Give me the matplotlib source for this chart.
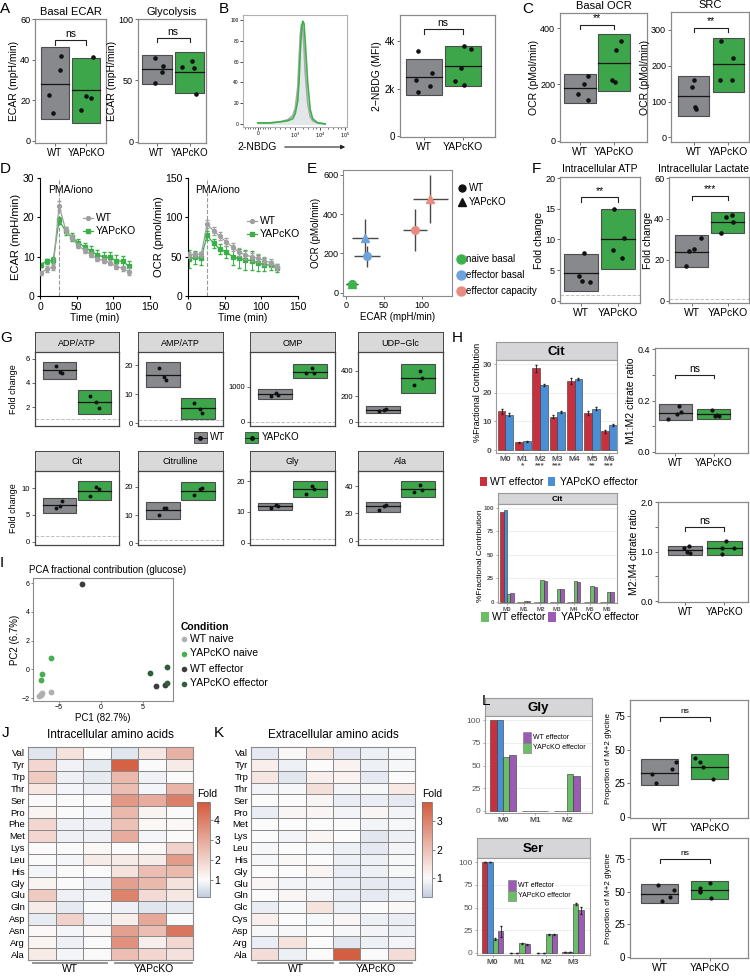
import numpy as np
import matplotlib
matplotlib.use('Agg')
import matplotlib.pyplot as plt
from matplotlib.patches import Rectangle, FancyArrowPatch
from matplotlib.lines import Line2D
from matplotlib.colors import LinearSegmentedColormap, Normalize

plt.rcParams['font.family'] = ['Liberation Sans', 'DejaVu Sans']
plt.rcParams['axes.linewidth'] = 0.8

W, H = 750, 976
fig = plt.figure(figsize=(W / 100, H / 100), dpi=100)

GROUPS = ['WT', 'YAPcKO']

# ---------------- data ----------------
# A  (box = [low, high, centre line] per group)
basal_ecar_box = [[11, 46, 28], [9, 41, 25]]
basal_ecar_pts = [[42, 35, 22.5, 14], [41.5, 22, 21, 15]]
glyco_box = [[47, 71, 59], [40, 73, 57]]
glyco_pts = [[68, 62, 57, 48], [66, 61, 60, 39]]

# B
nbdg_hist_x = [1.5, 2.0, 2.4, 2.7, 2.9, 3.0, 3.1, 3.15, 3.2, 3.25, 3.3, 3.35, 3.4, 3.5, 3.6, 3.7, 3.9, 4.2]
nbdg_hist_wt = [1, 1, 2, 4, 8, 15, 35, 60, 85, 96, 92, 75, 50, 20, 7, 3, 1, 0]
nbdg_hist_ko = [1, 1, 2, 3, 5, 10, 22, 40, 68, 90, 99, 97, 80, 40, 14, 5, 1, 0]
nbdg_box = [[1750, 3250, 2500], [2100, 3800, 2950]]
nbdg_pts = [[3600, 2650, 2350, 2100, 1850], [3800, 3680, 2850, 2300, 2150]]

# C
basal_ocr_box = [[135, 237, 187], [175, 378, 277]]
basal_ocr_pts = [[230, 200, 167, 143], [355, 322, 215, 210]]
src_box = [[60, 172, 115], [128, 278, 205]]
src_pts = [[160, 140, 85, 78], [270, 222, 160, 160]]

# D
time_min = [1, 9, 18, 26, 35, 43, 52, 61, 69, 78, 87, 95, 104, 113, 121]
ecar_wt = [5.8, 6.8, 7.3, 23, 16.8, 14.8, 12.8, 11.6, 10.5, 9.4, 9.0, 8.5, 7.5, 7.0, 6.2]
ecar_wt_sd = [0.5, 0.8, 0.8, 1.2, 0.8, 0.6, 0.6, 0.6, 0.6, 0.6, 0.6, 0.6, 0.7, 0.7, 0.8]
ecar_ko = [8.0, 8.8, 9.1, 19.2, 16.5, 15.0, 13.6, 12.4, 11.5, 10.5, 9.9, 9.8, 9.0, 8.8, 7.6]
ecar_ko_sd = [0.5, 0.7, 0.7, 0.9, 1.0, 1.0, 1.0, 1.2, 1.2, 1.3, 1.3, 1.3, 1.3, 1.3, 1.3]
ocr_wt = [52, 53, 53, 91, 83, 76, 69, 62, 56, 52, 50, 48, 45, 42, 37]
ocr_wt_sd = [4, 3, 3, 5, 5, 5, 5, 5, 5, 5, 5, 5, 5, 5, 4]
ocr_ko = [47, 49, 48, 77, 67, 60, 56, 50, 48, 46, 45, 42, 40, 39, 36]
ocr_ko_sd = [12, 8, 8, 6, 6, 6, 8, 10, 12, 13, 12, 10, 8, 6, 5]

# E
e_states = ['naive basal', 'effector basal', 'effector capacity']
e_wt_x = [7.5, 28, 91]
e_wt_xerr = [7, 17, 15.5]
e_wt_y = [42, 185, 318]
e_wt_yerr = [8, 53, 108]
e_ko_x = [7.5, 25, 111]
e_ko_xerr = [8, 16.5, 23]
e_ko_y = [46, 276, 475]
e_ko_yerr = [8, 101, 123]

# F
atp_box = [[1.5, 7.6, 4.5], [5.2, 15, 10.1]]
atp_pts = [[7.8, 4.1, 3.2, 3.0], [15, 10.2, 8.2, 7.0]]
lac_box = [[16.5, 32, 24], [33, 43.5, 38.5]]
lac_pts = [[30.5, 25.5, 24.5, 17], [42, 41, 38.5, 33]]

# G
g_names = ['ADP/ATP', 'AMP/ATP', 'OMP', 'UDP\u2212Glc', 'Cit', 'Citrulline', 'Gly', 'Ala']
g_box = [
    [[4.35, 5.75, 5.05], [1.45, 3.4, 2.45]],
    [[12.3, 21, 16.5], [1.5, 8.8, 5.2]],
    [[660, 930, 790], [1240, 1640, 1430]],
    [[65, 120, 90], [225, 455, 340]],
    [[5.3, 8.2, 6.8], [7.8, 11.3, 9.5]],
    [[8.7, 14.8, 11.7], [15.3, 21.8, 18.5]],
    [[10.5, 13, 11.8], [14.8, 20, 17.5]],
    [[21, 28, 25], [32, 43.5, 38]],
]
g_pts = [
    [[5.4, 4.95, 4.8], [2.9, 2.4, 1.95]],
    [[19, 16, 14.8], [7, 5, 3.5]],
    [[735, 835, 775], [1390, 1530, 1390]],
    [[80, 90, 100], [285, 395, 340]],
    [[6.3, 6.6, 7.6], [8.6, 10.3, 9.8]],
    [[10, 12.5, 12.5], [17, 19.3, 19.8]],
    [[11.3, 12.3, 11.8], [16, 18.5, 17.5]],
    [[22.7, 25.5, 26], [35.5, 40.5, 36.8]],
]

# H
iso_cit = ['M0', 'M1', 'M2', 'M3', 'M4', 'M5', 'M6']
iso_sig = ['', '*', '***', '***', '', '**', '***']
cit_wt = [13.5, 2.8, 28.5, 11.7, 24.0, 13.0, 6.5]
cit_wt_se = [0.8, 0.2, 1.3, 0.4, 1.0, 0.6, 0.5]
cit_ko = [12.3, 3.1, 22.8, 13.3, 24.8, 14.5, 8.8]
cit_ko_se = [0.5, 0.2, 0.3, 0.2, 0.5, 0.4, 0.4]
cit2_red = [96, 0.5, 0, 0, 0, 0, 0]
cit2_blue = [98, 0.5, 0, 0, 0, 0, 0]
cit2_green = [9, 0.8, 23, 14, 22, 17, 11]
cit2_purple = [10, 0.8, 22, 14, 21.5, 16, 10.5]
m1m2_box = [[0.123, 0.185, 0.152], [0.13, 0.167, 0.147]]
m1m2_pts = [[0.178, 0.155, 0.148, 0.128], [0.163, 0.142, 0.140, 0.139]]
m2m4_box = [[0.92, 1.12, 1.03], [0.92, 1.22, 1.08]]
m2m4_pts = [[1.12, 1.07, 0.98, 0.97], [1.22, 1.08, 1.07, 0.94]]

# I
pca_groups = ['WT naive', 'YAPcKO naive', 'WT effector', 'YAPcKO effector']
pca_x = [[-7.4, -7.1, -7.05, -7.2, -5.9], [-6.0, -7.0, -7.1], [-2.2, 6.6, 7.65], [5.8, 7.9, 7.9]]
pca_y = [[-1.84, -1.68, -1.63, -1.78, -1.58], [0.82, -0.33, -0.75], [5.94, -1.19, -1.07], [-0.22, 0.15, -0.92]]

# J
intra_rows = ['Val', 'Tyr', 'Trp', 'Thr', 'Ser', 'Pro', 'Phe', 'Met', 'Lys',
              'Leu', 'His', 'Gly', 'Glu', 'Gln', 'Asp', 'Asn', 'Arg', 'Ala']
intra_fold = [
    [0.6, 1.6, 1.0, 0.6, 1.5, 2.8],
    [1.9, 0.85, 0.7, 4.7, 1.0, 1.4],
    [2.2, 0.8, 0.7, 2.6, 0.85, 1.0],
    [1.5, 0.9, 0.8, 2.5, 0.9, 2.7],
    [1.05, 1.0, 1.0, 3.4, 2.9, 4.0],
    [1.2, 1.0, 0.9, 2.6, 1.2, 1.0],
    [1.9, 0.8, 0.8, 2.4, 1.1, 1.1],
    [1.9, 0.8, 0.8, 2.9, 0.9, 1.0],
    [1.05, 1.0, 1.1, 1.0, 1.1, 2.0],
    [1.0, 0.9, 1.4, 1.4, 1.4, 3.3],
    [0.9, 1.0, 1.0, 1.6, 2.5, 2.6],
    [1.2, 1.0, 0.8, 3.2, 2.6, 1.6],
    [2.2, 0.8, 0.85, 3.9, 1.8, 1.5],
    [1.4, 0.7, 1.0, 0.8, 0.6, 0.7],
    [0.7, 2.0, 0.8, 1.3, 3.0, 1.0],
    [1.1, 0.9, 1.1, 3.2, 2.5, 4.2],
    [1.2, 0.8, 1.0, 3.6, 1.3, 1.9],
    [1.4, 0.9, 1.0, 2.5, 1.9, 1.6],
]

# K
extra_rows = ['Val', 'Tyr', 'Trp', 'Thr', 'Ser', 'Pro', 'Met', 'Lys', 'Leu',
              'His', 'Gly', 'Glu', 'Gln', 'Glc', 'Cys', 'Asp', 'Arg', 'Ala']
extra_fold = [
    [0.75, 1.05, 1.4, 0.75, 0.85, 0.95],
    [1.2, 0.85, 1.0, 1.15, 0.85, 0.95],
    [1.35, 0.7, 1.2, 1.15, 0.75, 1.0],
    [0.9, 0.95, 1.45, 0.9, 0.95, 1.3],
    [1.0, 1.0, 1.1, 0.8, 0.8, 0.75],
    [0.8, 1.1, 1.1, 0.9, 1.1, 0.9],
    [1.0, 1.0, 1.0, 1.0, 0.9, 0.95],
    [1.0, 0.9, 1.1, 1.0, 0.7, 0.85],
    [0.95, 1.0, 0.95, 0.85, 0.75, 0.9],
    [0.95, 1.05, 1.0, 0.85, 0.85, 0.95],
    [1.0, 1.0, 1.1, 0.8, 0.85, 0.95],
    [1.1, 0.9, 0.9, 0.8, 0.75, 0.8],
    [1.0, 1.1, 0.9, 0.8, 0.75, 0.85],
    [0.8, 0.95, 1.4, 0.85, 1.0, 1.05],
    [1.2, 1.0, 0.95, 1.1, 0.85, 0.8],
    [0.95, 0.95, 1.0, 0.95, 0.9, 0.85],
    [0.8, 1.4, 1.0, 0.7, 0.85, 0.9],
    [1.5, 0.85, 1.0, 3.6, 1.0, 1.5],
]

# L
iso_gly = ['M0', 'M1', 'M2']
gly_bars = [[100, 0.3, 0], [100, 0.3, 0], [59, 0.3, 41], [62, 0.3, 38]]
iso_ser = ['M0', 'M1', 'M2', 'M3']
ser_bars = [[100, 0, 0, 1], [100, 0, 0, 1], [15.5, 10.5, 20.5, 53.5], [24, 9.5, 20.5, 47]]
ser_err = [[0.5, 0, 0, 0.4], [0.5, 0, 0, 0.4], [1.2, 0.6, 0.6, 1.0], [6, 0.6, 0.6, 4]]
gly_m2_box = [[24, 43, 33], [28.5, 46.5, 37.5]]
gly_m2_pts = [[41, 36, 32, 25], [43.5, 41, 37, 28.5]]
gly_m2b_box = [[41, 56, 48.5], [44, 58, 51]]
gly_m2b_pts = [[55, 51, 45.5, 43], [56.5, 52.5, 50.5, 49.5, 45]]

# ---------------- styles ----------------
BOXFILL = ['#87898c', '#3da64b']
RED, BLUE, LGREEN, PURPLE = '#c8303d', '#4a8fd6', '#6cbd68', '#9a5db3'
E_COLORS = ['#3cb24a', '#6da3dc', '#e88b80']
PCA_COLORS = ['#b0b0b0', '#4aad52', '#3d3d3d', '#2f6038']


def px(x0, y0, x1, y1):
    return fig.add_axes([x0 / W, 1 - y1 / H, (x1 - x0) / W, (y1 - y0) / H])


def fx(x):
    return x / W


def fy(y):
    return 1 - y / H


def ftext(x, y, s, **kw):
    fig.text(fx(x), fy(y), s, **kw)


def fline(xs, ys, **kw):
    fig.add_artist(Line2D([fx(v) for v in xs], [fy(v) for v in ys], transform=fig.transFigure, **kw))


def fmark(x, y, **kw):
    fig.add_artist(Line2D([fx(x)], [fy(y)], transform=fig.transFigure, **kw))


def frect(x0, y0, x1, y1, **kw):
    fig.add_artist(Rectangle((fx(x0), fy(y1)), (x1 - x0) / W, (y1 - y0) / H,
                             transform=fig.transFigure, **kw))


def letter(x, y, s):
    ftext(x, y, s, fontsize=11, va='top', ha='left')


def box_panel(ax, box, pts, jit, xlim, ylim, yticks, yticklabels=None, width=0.9,
              sig=None, sig_y=None, ylabel=None, title=None, fs=7.5, tfs=7, ms=3.3,
              dashed=None, frame='#8a8a8a', show_x=True, lpad=2, xfs=None):
    for i in range(2):
        lo, hi, mid = box[i]
        c = i + 1
        ax.add_patch(Rectangle((c - width / 2, lo), width, hi - lo, facecolor=BOXFILL[i],
                               edgecolor='#4d4d4d', lw=0.8, zorder=2))
        ax.plot([c - width / 2, c + width / 2], [mid, mid], color='#151515', lw=0.9, zorder=3)
        ax.plot([c + j for j in jit[i]], pts[i], 'o', color='#111111', ms=ms, mec='none', zorder=4)
    if dashed is not None:
        ax.axhline(dashed, color='#c0c0c0', ls='--', lw=0.7, zorder=1)
    ax.set_xlim(*xlim)
    ax.set_ylim(*ylim)
    ax.set_yticks(yticks)
    if yticklabels is not None:
        ax.set_yticklabels(yticklabels)
    if show_x:
        ax.set_xticks([1, 2])
        ax.set_xticklabels(GROUPS, fontsize=xfs if xfs else tfs + 0.5)
    else:
        ax.set_xticks([])
    ax.tick_params(axis='y', labelsize=tfs)
    ax.tick_params(length=2, width=0.6, color='#555555', pad=1.5)
    for s in ax.spines.values():
        s.set_color(frame)
        s.set_linewidth(0.9)
    if ylabel:
        ax.set_ylabel(ylabel, fontsize=fs, labelpad=lpad)
    if title:
        ax.set_title(title, fontsize=fs + 0.5, pad=3)
    if sig:
        rng = ylim[1] - ylim[0]
        d = rng * 0.035
        ax.plot([1, 1, 2, 2], [sig_y - d, sig_y, sig_y, sig_y - d], color='#222222', lw=0.8)
        ax.text(1.5, sig_y + rng * 0.012, sig, ha='center', va='bottom', fontsize=fs)


JIT4 = [[0.19, 0.16, -0.19, -0.05], [0.22, 0.0, 0.14, -0.18]]

# ---------------- A ----------------
letter(0, 2, 'A')
ax = px(35, 19, 106, 143)
box_panel(ax, basal_ecar_box, basal_ecar_pts, JIT4, (0.37, 2.62), (-1, 60), [0, 20, 40, 60],
          width=0.89, sig='ns', sig_y=49.5, ylabel='ECAR (mpH/min)', title='Basal ECAR',
          tfs=6.5, lpad=1)
ax = px(138, 19, 206, 143)
box_panel(ax, glyco_box, glyco_pts, [[-0.05, 0.2, 0.17, -0.04], [0.07, -0.23, 0.13, 0.2]],
          (0.43, 2.5), (-1, 100), [0, 50, 100], width=0.9, sig='ns', sig_y=84.5,
          ylabel='ECAR (mpH/min)', title='Glycolysis', tfs=6.5, lpad=0.5)

# ---------------- B ----------------
letter(219, 2, 'B')
ax = px(243, 15, 347, 127)
ax.fill_between(nbdg_hist_x, nbdg_hist_wt, color='#e3e7ea', zorder=1)
ax.plot(nbdg_hist_x, nbdg_hist_wt, color='#a8a8a8', lw=1.2, zorder=2)
ax.plot(nbdg_hist_x, nbdg_hist_ko, color='#3cb04a', lw=1.2, zorder=3)
ax.set_xlim(0.9, 5.08)
ax.set_ylim(-3, 105)
ax.set_xticks([1.5, 3, 4, 5])
ax.set_xticklabels(['0', '$10^3$', '$10^4$', '$10^5$'])
ax.set_xticks([1.0, 1.1, 1.2, 1.3, 1.4, 1.6, 1.7, 1.8, 1.9, 2.0, 2.2, 2.4, 2.6, 2.8,
               3.3, 3.5, 3.7, 3.85, 4.3, 4.5, 4.7, 4.85], minor=True)
ax.set_yticks([0, 20, 40, 60, 80, 100])
ax.tick_params(labelsize=3.5, length=2, width=0.5, pad=1)
ax.tick_params(which='minor', length=1.5, width=0.4)
for s in ax.spines.values():
    s.set_color('#b0b0b0')
ftext(237, 147, '2-NBDG', fontsize=7.5, va='center')
fig.add_artist(FancyArrowPatch((fx(282), fy(147)), (fx(348), fy(147)), transform=fig.transFigure,
                               arrowstyle='-|>', mutation_scale=6, lw=0.8, color='#222222'))
ax = px(400, 15, 495, 137)
box_panel(ax, nbdg_box, nbdg_pts, [[-0.15, 0.2, -0.2, 0.15, -0.15], [0.04, 0.22, -0.05, -0.2, 0.04]],
          (0.38, 2.84), (-40, 5100), [0, 2000, 4000], ['0', '2k', '4k'], width=0.93,
          sig='ns', sig_y=4500, ylabel='2\u2212NBDG (MFI)', xfs=7.5)

# ---------------- C ----------------
letter(522, 2, 'C')
ax = px(560, 13, 647, 142)
box_panel(ax, basal_ocr_box, basal_ocr_pts, [[0.22, 0.1, -0.07, 0.22], [0.19, 0.04, -0.07, 0.01]],
          (0.4, 2.96), (-5, 454), [0, 200, 400], width=0.94, sig='**', sig_y=412,
          ylabel='OCR (pMol/min)', title='Basal OCR', tfs=6.5, lpad=1, xfs=7.5)
ax = px(671, 12, 749, 142)
box_panel(ax, src_box, src_pts, [[0.0, -0.03, 0.03, 0.06], [-0.2, 0.13, -0.25, 0.1]],
          (0.35, 2.6), (-13, 350), [0, 100, 200, 300], width=0.9, sig='**', sig_y=306,
          ylabel='OCR (pMol/min)', title='SRC', tfs=6.5, lpad=0.5, xfs=7.5)

# ---------------- D ----------------
letter(0, 162, 'D')


def line_panel(ax, wt, wt_sd, ko, ko_sd, ylim, yticks, ylabel, txt_x, txt_y):
    ax.errorbar(time_min, wt, yerr=wt_sd, color='#a0a0a0', marker='o', ms=2.8, lw=0.9,
                elinewidth=0.7, capsize=1.2, zorder=3)
    ax.errorbar(time_min, ko, yerr=ko_sd, color='#3cae4a', marker='s', ms=2.6, lw=0.9,
                elinewidth=0.7, capsize=1.2, zorder=2)
    ax.axvline(26, color='#999999', ls='--', lw=0.8, zorder=1)
    ax.set_xlim(0, 150)
    ax.set_ylim(*ylim)
    ax.set_xticks([0, 50, 100, 150])
    ax.set_yticks(yticks)
    ax.spines[['top', 'right']].set_visible(False)
    ax.tick_params(labelsize=7.5, length=2.5, width=0.8, pad=1.5)
    ax.set_ylabel(ylabel, fontsize=8, labelpad=1)
    ax.set_xlabel('Time (min)', fontsize=7.5, labelpad=1)
    ax.text(txt_x, txt_y, 'PMA/iono', fontsize=7.5, ha='center', va='center')


ax = px(40, 178, 150, 296)
line_panel(ax, ecar_wt, ecar_wt_sd, ecar_ko, ecar_ko_sd, (0, 30), [0, 10, 20, 30],
           'ECAR (mpH/min)', 42, 27)
ax = px(188, 178, 298, 296)
line_panel(ax, ocr_wt, ocr_wt_sd, ocr_ko, ocr_ko_sd, (0, 150), [0, 50, 100, 150],
           'OCR (pmol/min)', 40, 135)
for lx, ly in [(83, 218), (247, 221)]:
    fline([lx, lx + 10], [ly, ly], color='#a0a0a0', lw=0.9)
    fmark(lx + 5, ly, marker='o', color='#a0a0a0', ms=2.8)
    ftext(lx + 13, ly, 'WT', fontsize=7.5, va='center')
    fline([lx, lx + 10], [ly + 13, ly + 13], color='#3cae4a', lw=0.9)
    fmark(lx + 5, ly + 13, marker='s', color='#3cae4a', ms=2.6)
    ftext(lx + 13, ly + 13, 'YAPcKO', fontsize=7.5, va='center')

# ---------------- E ----------------
letter(307, 162, 'E')
ax = px(343, 170, 452, 296)
for i, col in enumerate(E_COLORS):
    ax.errorbar(e_wt_x[i], e_wt_y[i], xerr=e_wt_xerr[i], yerr=e_wt_yerr[i], fmt='none',
                ecolor='#4a4a4a', elinewidth=1, zorder=2)
    ax.errorbar(e_ko_x[i], e_ko_y[i], xerr=e_ko_xerr[i], yerr=e_ko_yerr[i], fmt='none',
                ecolor='#4a4a4a', elinewidth=1, zorder=2)
    ax.plot(e_wt_x[i], e_wt_y[i], 'o', color=col, ms=5.5, zorder=3)
    ax.plot(e_ko_x[i], e_ko_y[i], '^', color=col, ms=6, zorder=3)
ax.set_xlim(-4, 139.5)
ax.set_ylim(-17, 624)
ax.set_xticks([0, 50, 100])
ax.set_yticks([0, 200, 400, 600])
ax.tick_params(labelsize=6.5, length=2, width=0.6, color='#555555', pad=1.5)
for s in ax.spines.values():
    s.set_color('#8a8a8a')
ax.set_xlabel('ECAR (mpH/min)', fontsize=7, labelpad=1.5)
ax.set_ylabel('OCR (pMol/min)', fontsize=7, labelpad=1.5)
fmark(462, 188, marker='o', color='#111111', ms=5)
ftext(469, 188, 'WT', fontsize=7, va='center')
fmark(462, 202, marker='^', color='#111111', ms=5.5)
ftext(469, 202, 'YAPcKO', fontsize=7, va='center')
for i, (lab, col) in enumerate(zip(e_states, E_COLORS)):
    fmark(461, 259 + 16 * i, marker='o', color=col, ms=6.5)
    ftext(466, 259 + 16 * i, lab, fontsize=7, va='center')

# ---------------- F ----------------
letter(532, 162, 'F')
ax = px(560, 177, 640, 303)
box_panel(ax, atp_box, atp_pts, [[0.08, -0.05, 0.03, 0.24], [-0.1, 0.16, -0.14, 0.1]],
          (0.43, 2.6), (-0.38, 20.2), [0, 5, 10, 15, 20], width=0.92, sig='**', sig_y=16.9,
          ylabel='Fold change', dashed=1, tfs=6.5, lpad=1, xfs=7.5)
ftext(600, 169, 'Intracellular ATP', fontsize=7.5, ha='center', va='center')
ax = px(669, 177, 749, 303)
box_panel(ax, lac_box, lac_pts, [[0.25, 0.05, -0.08, -0.16], [0.12, -0.04, 0.15, -0.2]],
          (0.37, 2.59), (-1.1, 60.5), [0, 20, 40, 60], width=0.92, sig='***', sig_y=51.3,
          ylabel='Fold change', dashed=1, tfs=6.5, lpad=0.5, xfs=7.5)
ftext(703, 169, 'Intracellular Lactate', fontsize=7.5, ha='center', va='center')

# ---------------- G ----------------
letter(0, 331, 'G')
g_cols = [(35, 119), (138, 223), (250, 335), (358, 443)]
g_rows = [(332, 352, 426), (451, 471, 545)]
g_ylims = [(0.42, 6.58), (-1, 24.5), (-120, 1990), (-34, 547),
           (-0.6, 13.2), (-0.7, 25.7), (-0.8, 23.4), (-3.2, 51)]
g_ticks = [[2, 4, 6], [0, 10, 20], [0, 1000], [0, 200, 400],
           [0, 5, 10], [0, 10, 20], [0, 10, 20], [0, 20, 40]]
for k in range(8):
    x0, x1 = g_cols[k % 4]
    ys, yp, yb = g_rows[k // 4]
    st = px(x0, ys, x1, yp)
    st.set_facecolor('#d9d9d9')
    st.set_xticks([])
    st.set_yticks([])
    for s in st.spines.values():
        s.set_color('#444444')
        s.set_linewidth(0.7)
    st.text(0.5, 0.45, g_names[k], ha='center', va='center', fontsize=6.5, transform=st.transAxes)
    ax = px(x0, yp, x1, yb)
    box_panel(ax, g_box[k], g_pts[k], [[-0.1, 0.02, 0.08], [-0.12, 0.05, 0.12]], (0.3, 2.7),
              g_ylims[k], g_ticks[k], width=0.95, dashed=1, show_x=False, tfs=5.5, ms=2.8,
              frame='#444444')
ftext(14, 389, 'Fold change', fontsize=6.5, rotation=90, ha='center', va='center')
ftext(14, 508, 'Fold change', fontsize=6.5, rotation=90, ha='center', va='center')
for (bx, tx, lab), col in zip([(194, 210, 'WT'), (245, 262, 'YAPcKO')], BOXFILL):
    frect(bx, 432, bx + 13, 443, facecolor=col, edgecolor='#444444', lw=0.6)
    fline([bx, bx + 13], [437.5, 437.5], color='#111111', lw=0.6)
    fmark(bx + 6.5, 437.5, marker='o', color='#111111', ms=2.5)
    ftext(tx, 437.5, lab, fontsize=7, va='center')

# ---------------- H ----------------
letter(452, 331, 'H')


def strip(x0, y0, x1, y1, name, fs):
    st = px(x0, y0, x1, y1)
    st.set_facecolor('#d6d6d8')
    st.set_xticks([])
    st.set_yticks([])
    for s in st.spines.values():
        s.set_color('#9a9a9a')
        s.set_linewidth(0.8)
    st.text(0.5, 0.45, name, ha='center', va='center', fontsize=fs, fontweight='bold',
            transform=st.transAxes)


def bar_frame(ax, ylim, yticks, labels, tfs):
    ax.set_ylim(*ylim)
    ax.set_yticks(yticks)
    ax.set_xticks(np.arange(len(labels)))
    ax.set_xticklabels(labels, fontweight='bold', color='#666666', linespacing=0.8)
    ax.tick_params(labelsize=tfs, length=1.5, width=0.5, color='#888888', pad=1.5, labelcolor='#555555')
    for t in ax.get_yticklabels():
        t.set_fontweight('bold')
    ax.yaxis.grid(True, color='#ececec', lw=0.6)
    ax.set_axisbelow(True)
    for s in ax.spines.values():
        s.set_color('#9a9a9a')
        s.set_linewidth(0.8)


strip(496, 342, 617, 360, 'Cit', 9.5)
ax = px(496, 360, 617, 453)
xc = np.arange(len(iso_cit))
ekw = dict(elinewidth=0.6, capsize=1.0, ecolor='#222222')
ax.bar(xc - 0.225, cit_wt, 0.45, yerr=cit_wt_se, color=RED, edgecolor='#333333', lw=0.4, error_kw=ekw)
ax.bar(xc + 0.225, cit_ko, 0.45, yerr=cit_ko_se, color=BLUE, edgecolor='#333333', lw=0.4, error_kw=ekw)
ax.set_xlim(-0.55, 6.46)
bar_frame(ax, (-1, 31.4), [0, 10, 20, 30],
          [m + '\n' + s for m, s in zip(iso_cit, iso_sig)], 6)
ax.xaxis.set_tick_params(pad=1)
ftext(477, 392, '%Fractional Contribution', fontsize=6.5, rotation=90, ha='center', va='center')
for (bx, tx, lab), col in zip([(480, 490, 'WT effector'), (548, 560, 'YAPcKO effector')], [RED, BLUE]):
    frect(bx, 477, bx + 7, 486, facecolor=col, edgecolor='none')
    ftext(tx, 482, lab, fontsize=7.5, va='center')

strip(498, 493, 617, 504, 'Cit', 6)
ax = px(498, 504, 617, 603)
for off, vals, col in zip([-0.3, -0.1, 0.1, 0.3], [cit2_red, cit2_blue, cit2_green, cit2_purple],
                          [RED, BLUE, LGREEN, PURPLE]):
    ax.bar(xc + off, vals, 0.2, color=col, edgecolor='#333333', lw=0.4)
ax.set_xlim(-0.55, 6.6)
bar_frame(ax, (-1, 104), [0, 25, 50, 75, 100], iso_cit, 4.5)
ftext(481, 556, '%Fractional Contribution', fontsize=6, rotation=90, ha='center', va='center')
for (bx, tx, lab), col in zip([(481, 492, 'WT effector'), (548, 561, 'YAPcKO effector')], [LGREEN, PURPLE]):
    frect(bx, 612, bx + 8, 622, facecolor=col, edgecolor='none')
    ftext(tx, 617, lab, fontsize=7.5, va='center')

ax = px(655, 348, 748, 453)
box_panel(ax, m1m2_box, m1m2_pts, [[0.1, 0.15, 0.05, -0.2], [-0.05, 0.1, 0.15, 0.05]],
          (0.47, 2.9), (-0.004, 0.404), [0, 0.1, 0.2, 0.3, 0.4], ['0.0', '', '0.2', '', '0.4'],
          width=0.85, sig='ns', sig_y=0.3, ylabel='M1:M2 citrate ratio', ms=3, tfs=6.5, lpad=1)
ax = px(658, 502, 748, 602)
box_panel(ax, m2m4_box, m2m4_pts, [[0.1, -0.02, 0.05, 0.12], [0.05, 0.25, -0.05, -0.05]],
          (0.31, 2.6), (-0.02, 2.0), [0, 0.5, 1, 1.5, 2], ['0.0', '', '1.0', '', '2.0'],
          width=0.88, sig='ns', sig_y=1.49, ylabel='M2:M4 citrate ratio', ms=3, tfs=6.5, lpad=1)

# ---------------- I ----------------
letter(0, 556, 'I')
ax = px(33, 578, 173, 701)
for gx, gy, col in zip(pca_x, pca_y, PCA_COLORS):
    ax.plot(gx, gy, 'o', color=col, ms=4.2, mec='none')
ax.set_xlim(-8.1, 8.6)
ax.set_ylim(-2.2, 6.35)
ax.set_xticks([-5, 0, 5])
ax.set_yticks([-2, 0, 2, 4, 6])
ax.tick_params(labelsize=5, length=1.5, width=0.5, color='#555555', pad=1)
for s in ax.spines.values():
    s.set_color('#8a8a8a')
ax.set_xlabel('PC1 (82.7%)', fontsize=7, labelpad=1)
ax.set_ylabel('PC2 (6.7%)', fontsize=7, labelpad=1)
ftext(29, 570, 'PCA fractional contribution (glucose)', fontsize=7, va='center')
ftext(181, 627, 'Condition', fontsize=7.5, fontweight='bold', va='center')
for i, (lab, col) in enumerate(zip(pca_groups, PCA_COLORS)):
    fmark(184, 638.5 + 15 * i, marker='o', color=col, ms=4, mec='none')
    ftext(190, 638.5 + 15 * i, lab, fontsize=7.5, va='center')


# ---------------- J / K heatmaps ----------------
def fold_cmap(vmin, vmax):
    f = (1 - vmin) / (vmax - vmin)
    return LinearSegmentedColormap.from_list('fold', [(0, '#c2cce0'), (f, '#fbfbfb'), (1, '#d35a3c')])


def heatmap(box, cbox, vals, rows, vmin, vmax, cticks, title, tx, wt_line, ko_line):
    ax = px(*box)
    cmap = fold_cmap(vmin, vmax)
    mesh = ax.pcolormesh(np.array(vals), cmap=cmap, norm=Normalize(vmin, vmax),
                         edgecolors='#8a8a8a', linewidth=0.5)
    ax.set_xlim(0, 6)
    ax.set_ylim(len(rows), 0)
    ax.set_yticks(np.arange(len(rows)) + 0.5)
    ax.set_yticklabels(rows, fontsize=6.8)
    ax.set_xticks([])
    ax.tick_params(length=0, pad=2)
    for s in ax.spines.values():
        s.set_color('#8a8a8a')
    cax = px(*cbox)
    cb = fig.colorbar(mesh, cax=cax)
    cb.set_ticks(cticks)
    cb.ax.tick_params(labelsize=7.5, length=2, width=0.5, color='#555555', pad=1)
    cb.outline.set_edgecolor('#777777')
    cb.outline.set_linewidth(0.6)
    ftext(cbox[0], cbox[1] - 8, 'Fold', fontsize=7.5, va='center')
    ftext(tx, 735, title, fontsize=8.5, ha='center', va='center')
    for (l0, l1), lab in zip([wt_line, ko_line], GROUPS):
        fline([l0, l1], [963, 963], color='#8a8a8a', lw=1.3)
        ftext((l0 + l1) / 2, 969.5, lab, fontsize=7.5, ha='center', va='center')


letter(2, 726, 'J')
heatmap((28, 747, 193, 960), (197, 802, 210, 897), intra_fold, intra_rows, 0.15, 4.9,
        [1, 2, 3, 4], 'Intracellular amino acids', 110, (33, 107), (115, 192))
letter(214, 726, 'K')
heatmap((251, 747, 415, 960), (422, 802, 432, 897), extra_fold, extra_rows, 0.33, 3.67,
        [1, 2, 3], 'Extracellular amino acids', 333, (258, 333), (340, 412))

# ---------------- L ----------------
letter(482, 694, 'L')


def iso_panel(sbox, abox, labels, bars, errs, name, xlim, leg_x, leg_y):
    strip(abox[0], sbox[0], abox[2], sbox[1], name, 9.5)
    ax = px(*abox)
    xg = np.arange(len(labels))
    for j, (off, col) in enumerate(zip([-0.3, -0.1, 0.1, 0.3], [RED, BLUE, LGREEN, PURPLE])):
        ax.bar(xg + off, bars[j], 0.2, yerr=None if errs is None else errs[j], color=col,
               edgecolor='#333333', lw=0.4, error_kw=ekw)
    ax.set_xlim(*xlim)
    bar_frame(ax, (-2.2, 104.4), [0, 25, 50, 75, 100], labels, 6)
    for t in ax.get_yticklabels():
        t.set_fontweight('normal')
    for k, (lab, col) in enumerate([('WT effector', PURPLE), ('YAPcKO effector', LGREEN)]):
        frect(leg_x, leg_y + 10.5 * k, leg_x + 8, leg_y + 10.5 * (k + 1), facecolor=col,
              edgecolor='#777777', lw=0.4)
        ftext(leg_x + 10, leg_y + 10.5 * k + 5.25, lab, fontsize=5, va='center')


iso_panel((698, 716), (485, 716, 592, 813), iso_gly, gly_bars, None, 'Gly', (-0.56, 2.78), 523, 732)
iso_panel((838, 858), (477, 858, 590, 955), iso_ser, ser_bars, ser_err, 'Ser', (-0.58, 3.63), 508, 880)

ax = px(630, 700, 748, 818)
box_panel(ax, gly_m2_box, gly_m2_pts, [[0.32, 0.25, -0.16, -0.07], [-0.29, -0.19, -0.14, 0.06]],
          (0.41, 2.77), (-0.7, 86.9), [0, 25, 50, 75], width=0.74, sig='ns', sig_y=74.5,
          ylabel='Proportion of M+2 glycine', fs=6, tfs=7, ms=3, xfs=7.5)
ax.yaxis.label.set_fontsize(5.8)
ax = px(630, 838, 748, 958)
box_panel(ax, gly_m2b_box, gly_m2b_pts, [[-0.03, 0.29, 0.21, 0.04], [0.01, -0.19, -0.19, -0.19, 0.02]],
          (0.41, 2.77), (-0.8, 91), [0, 25, 50, 75], width=0.74, sig='ns', sig_y=75,
          ylabel='Proportion of M+2 glycine', fs=6, tfs=7, ms=3, xfs=7.5)
ax.yaxis.label.set_fontsize(5.8)

fig.savefig('out.png', dpi=100)
